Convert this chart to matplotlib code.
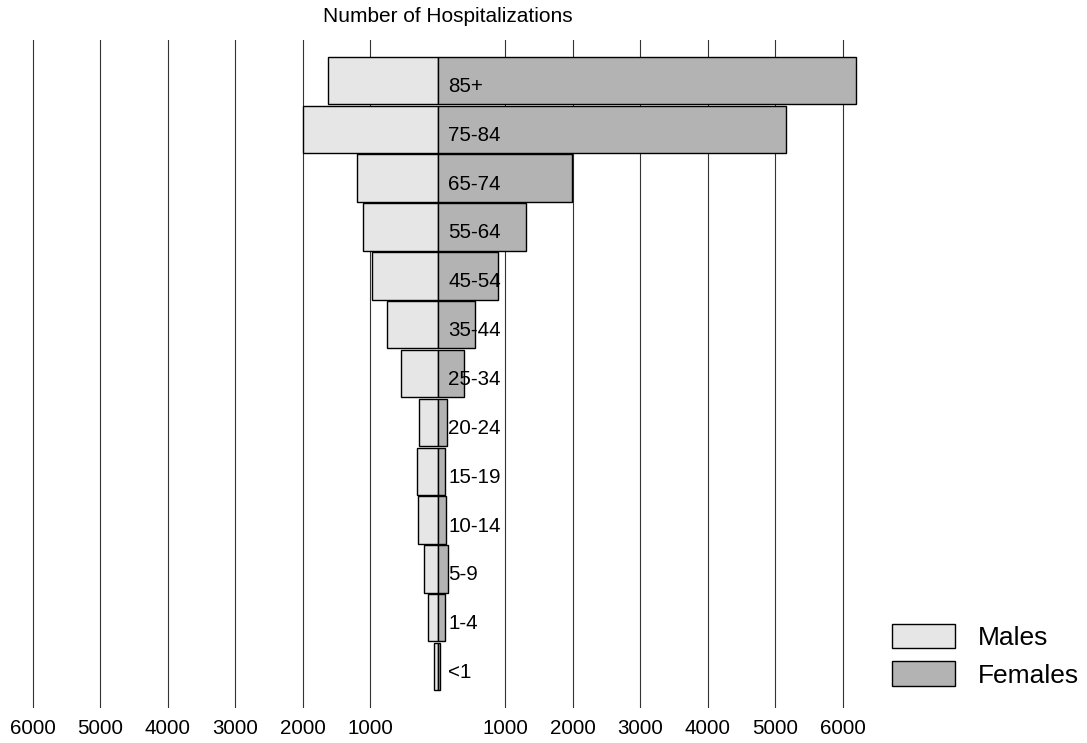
import matplotlib.pyplot as plt
import matplotlib as mpl

mpl.rcParams['font.family'] = ['Liberation Sans', 'DejaVu Sans']

# age groups, bottom to top
ages = ['<1', '1-4', '5-9', '10-14', '15-19', '20-24', '25-34',
        '35-44', '45-54', '55-64', '65-74', '75-84', '85+']
# hospitalizations
males = [45, 135, 200, 290, 300, 270, 535, 755, 965, 1100, 1190, 1990, 1620]
females = [35, 110, 150, 120, 110, 145, 395, 555, 890, 1305, 1990, 5160, 6195]
# axis ticks
tick_vals = [-6000, -5000, -4000, -3000, -2000, -1000,
             1000, 2000, 3000, 4000, 5000, 6000]
tick_labels = [str(abs(v)) for v in tick_vals]

fig = plt.figure(figsize=(10.87, 7.43), dpi=100)
ax = fig.add_axes([0.01748, 0.04711, 0.78243, 0.89906])

y = list(range(len(ages)))
ax.barh(y, [-m for m in males], height=0.97, color='#e6e6e6',
        edgecolor='black', linewidth=1.0, label='Males', zorder=3)
ax.barh(y, females, height=0.97, color='#b3b3b3',
        edgecolor='black', linewidth=1.0, label='Females', zorder=3)

# age labels just right of centre
for yi, name in zip(y, ages):
    ax.text(160, yi - 0.235, name, fontsize=14.8, ha='left',
            va='baseline', zorder=4)

ax.set_xlim(-6200, 6400)
ax.set_ylim(-0.848, 12.828)
ax.set_xticks(tick_vals)
ax.set_xticklabels(tick_labels, fontsize=14.8)
ax.set_yticks([])
ax.tick_params(axis='x', length=0, pad=8)
ax.xaxis.grid(True, color='#333333', linewidth=0.8)
ax.set_axisbelow(True)
for s in ax.spines.values():
    s.set_visible(False)

fig.text(448 / 1087, 1 - 17 / 743, 'Number of Hospitalizations',
         fontsize=15, ha='center', va='center')

fig.legend(loc='upper left', bbox_to_anchor=(892 / 1087, 1 - 624 / 743),
           frameon=False, fontsize=19, borderpad=0, borderaxespad=0,
           handlelength=2.4, handleheight=1.05, labelspacing=0.42,
           handletextpad=0.87)

plt.savefig('out.png', dpi=100)
